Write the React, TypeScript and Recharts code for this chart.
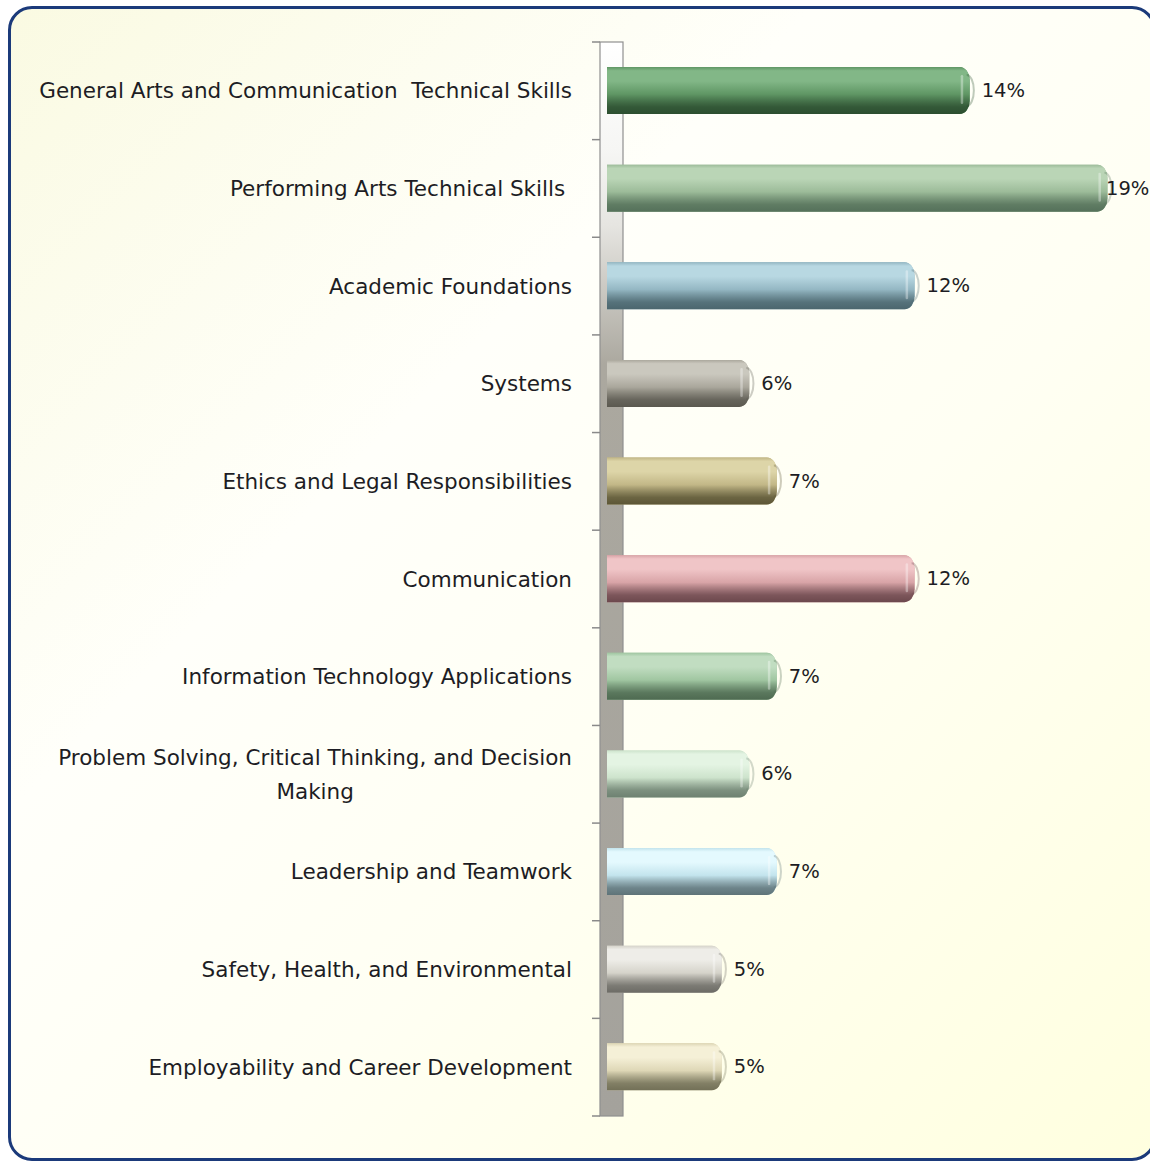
import React from 'react';
import { BarChart, Bar, XAxis, YAxis, Customized, LabelList } from 'recharts';

// skill areas, top to bottom
const categories = [
  'General Arts and Communication  Technical Skills',
  'Performing Arts Technical Skills ',
  'Academic Foundations',
  'Systems',
  'Ethics and Legal Responsibilities',
  'Communication',
  'Information Technology Applications',
  'Problem Solving, Critical Thinking, and Decision Making',
  'Leadership and Teamwork',
  'Safety, Health, and Environmental',
  'Employability and Career Development',
];

// share of standards, percent
const shares = [14, 19, 12, 6, 7, 12, 7, 6, 7, 5, 5];

// light / mid / dark shade of each cylinder
const barColors = [
  ['#82b787', '#5f9664', '#2c4e30'],
  ['#bad5b6', '#9cbb99', '#55715a'],
  ['#b8d8e2', '#94b7c3', '#4b666e'],
  ['#cac8be', '#aaa79c', '#5b5950'],
  ['#ddd5a8', '#c2b787', '#5c5636'],
  ['#f0c5c7', '#d8a4a7', '#6c484d'],
  ['#c1ddc1', '#a0c6a1', '#4e6a51'],
  ['#e4f4e3', '#cde3cc', '#6e8171'],
  ['#e4f9fe', '#c3e4ed', '#5e7378'],
  ['#eeede8', '#d5d3ca', '#6c6b65'],
  ['#f5f0d7', '#ded7b6', '#727057'],
];

const data = categories.map((name, i) => ({ name, value: shares[i] }));

const CHART_W = 1142;
const CHART_H = 1150;
const MARGIN = { top: 36, right: 15, bottom: 40, left: 0 };
const AXIS_W = 576;
const PLOT_LEFT = MARGIN.left + AXIS_W;
const PLOT_RIGHT = CHART_W - MARGIN.right;
const PLOT_TOP = MARGIN.top;
const PLOT_BOTTOM = CHART_H - MARGIN.bottom;
const WALL_X = PLOT_LEFT + 16;
const WALL_W = 23;
const BAR_INSET = 23;
const LABEL_RIGHT = PLOT_LEFT - 12;
const FONT = '"DejaVu Sans", "Noto Sans", sans-serif';
const CAT_SIZE = 21.5;

let ctx: CanvasRenderingContext2D | null = null;
const textWidth = (s: string) => {
  if (!ctx) ctx = document.createElement('canvas').getContext('2d');
  if (!ctx) return s.length * 11.5;
  ctx.font = `${CAT_SIZE}px ${FONT}`;
  return ctx.measureText(s).width;
};

const wrap = (s: string, max: number) => {
  const words = s.split(' ');
  const lines: string[] = [];
  let cur = '';
  words.forEach((w) => {
    const next = cur ? cur + ' ' + w : w;
    if (cur && textWidth(next) > max) {
      lines.push(cur);
      cur = w;
    } else cur = next;
  });
  lines.push(cur);
  return lines;
};

const CategoryTick = (props: any) => {
  const { y, payload } = props;
  const text: string = payload.value;
  const lines = textWidth(text) > 560 ? wrap(text, 545) : [text];
  const blockW = Math.max(...lines.map(textWidth));
  const cx = LABEL_RIGHT - blockW / 2;
  const lh = 34;
  return (
    <g>
      {lines.map((l, i) => (
        <text
          key={i}
          x={lines.length > 1 ? cx : LABEL_RIGHT}
          y={y + (i - (lines.length - 1) / 2) * lh}
          textAnchor={lines.length > 1 ? 'middle' : 'end'}
          dominantBaseline="central"
          fontFamily={FONT}
          fontSize={CAT_SIZE}
          fill="#1d1d24"
          style={{ whiteSpace: 'pre' }}
        >
          {l}
        </text>
      ))}
    </g>
  );
};

const Cylinder = (props: any) => {
  const { x, y, width, height, index } = props;
  const [light, mid, dark] = barColors[index];
  const sx = x + BAR_INSET;
  const ex = x + width;
  const rx = 10;
  const ry = 13;
  const id = `cyl-${index}`;
  const d = `M${sx},${y} L${ex - rx},${y} A${rx},${ry} 0 0 1 ${ex},${y + ry} L${ex},${y + height - ry} A${rx},${ry} 0 0 1 ${ex - rx},${y + height} L${sx},${y + height} Z`;
  return (
    <g>
      <defs>
        <linearGradient id={id} x1="0" y1="0" x2="0" y2="1">
          <stop offset="0" stopColor={mid} />
          <stop offset="0.08" stopColor={light} />
          <stop offset="0.3" stopColor={light} />
          <stop offset="0.58" stopColor={mid} />
          <stop offset="0.85" stopColor={dark} stopOpacity={0.85} />
          <stop offset="1" stopColor={dark} />
        </linearGradient>
      </defs>
      <path d={d} fill={mid} />
      <path d={d} fill={`url(#${id})`} />
      <rect x={ex - 9} y={y + 8} width={2.5} height={height - 18} rx={1.2} fill="#ffffff" opacity={0.35} />
      <path
        d={`M${ex - 3},${y + 8} A${rx - 4},${ry} 0 0 1 ${ex - 3},${y + height - 8}`}
        fill="none"
        stroke={dark}
        strokeOpacity={0.3}
        strokeWidth={2}
      />
    </g>
  );
};

const ValueLabel = (props: any) => {
  const { x, y, width, height, value } = props;
  const lx = Math.min(x + width + 12, PLOT_RIGHT - 29);
  return (
    <text
      x={lx}
      y={y + height / 2}
      dominantBaseline="central"
      fontFamily={FONT}
      fontSize={19.5}
      fill="#1d1d24"
    >
      {`${value}%`}
    </text>
  );
};

const Wall = () => {
  const band = (PLOT_BOTTOM - PLOT_TOP) / categories.length;
  const ticks = Array.from({ length: categories.length + 1 }, (_, i) => PLOT_TOP + i * band);
  return (
    <g>
      <defs>
        <linearGradient id="wallGrad" x1="0" y1="0" x2="0" y2="1">
          <stop offset="0" stopColor="#ffffff" />
          <stop offset="0.1" stopColor="#f6f6f4" />
          <stop offset="0.17" stopColor="#e6e5e1" />
          <stop offset="0.3" stopColor="#aba89f" />
          <stop offset="1" stopColor="#a4a29c" />
        </linearGradient>
      </defs>
      <rect
        x={WALL_X}
        y={PLOT_TOP}
        width={WALL_W}
        height={PLOT_BOTTOM - PLOT_TOP}
        fill="url(#wallGrad)"
        stroke="#8f8f8f"
        strokeWidth={1.2}
      />
      {ticks.map((t, i) => (
        <line key={i} x1={WALL_X - 8} x2={WALL_X} y1={t} y2={t} stroke="#8a8a8a" strokeWidth={1.5} />
      ))}
    </g>
  );
};

export default function App() {
  return (
    <div
      style={{
        position: 'fixed',
        left: 0,
        top: 0,
        width: 1150,
        height: 1163,
        overflow: 'hidden',
        background: '#ffffff',
      }}
    >
      <div
        style={{
          position: 'absolute',
          left: 8,
          top: 6,
          width: 1148,
          height: 1155,
          boxSizing: 'border-box',
          border: '3px solid #1b3a7a',
          borderRadius: 24,
          background: 'linear-gradient(135deg, #fafae2 0%, #fffffa 35%, #fffff3 60%, #ffffdf 100%)',
        }}
      />
      <div style={{ position: 'absolute', left: 8, top: 6 }}>
        <BarChart width={CHART_W} height={CHART_H} data={data} layout="vertical" margin={MARGIN}>
          <XAxis type="number" domain={[0, 20]} hide />
          <YAxis
            type="category"
            dataKey="name"
            width={AXIS_W}
            axisLine={false}
            tickLine={false}
            interval={0}
            tick={<CategoryTick />}
          />
          <Customized component={Wall} />
          <Bar dataKey="value" barSize={47} shape={<Cylinder />} isAnimationActive={false}>
            <LabelList dataKey="value" content={<ValueLabel />} />
          </Bar>
        </BarChart>
      </div>
    </div>
  );
}
